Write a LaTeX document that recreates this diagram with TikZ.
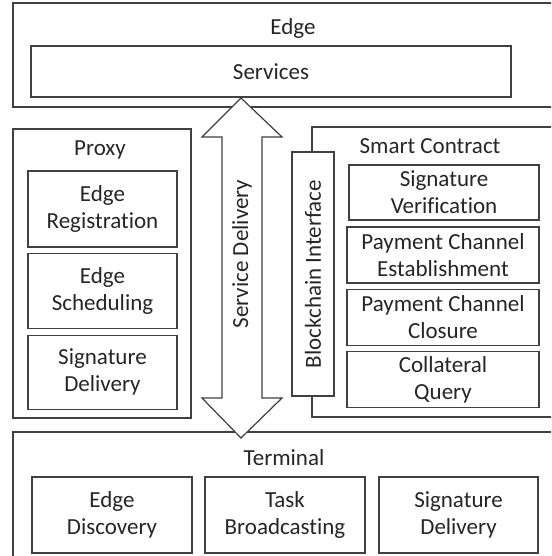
\documentclass[tikz,border=0pt]{standalone}
\usepackage{fontspec}
\setmainfont{Carlito}[Ligatures=NoCommon]
\usepackage{tikz}
\usetikzlibrary{shapes,arrows,positioning,fit,backgrounds}

\begin{document}
\begin{tikzpicture}[
    x=0.5pt, y=-0.5pt,
    font=\fontsize{11.5}{13.5}\selectfont,
    every node/.append style={text=black!85},
    outer/.style={rectangle, draw=black!75, line width=0.6pt},
    blk/.style={rectangle, draw=black!75, fill=white, line width=0.6pt, align=center, inner sep=0pt},
    title/.style={inner sep=0pt, align=center},
    dblarrow/.style={draw=black!75, line width=0.6pt, fill=white}
]
    \useasboundingbox (0,0) rectangle (551,556);
    \clip (0,0) rectangle (551,556);

    % Edge layer
    \node[outer, minimum width=280pt, minimum height=52pt] (edgebox) at (293,55) {};
    \node[title] (edgetitle) at (293,28) {Edge};
    \node[blk, minimum width=240pt, minimum height=25.5pt] (services) at (271,71.5) {Services};

    % Proxy
    \node[outer, minimum width=89pt, minimum height=144.5pt] (proxybox) at (102,273.5) {};
    \node[title] (proxytitle) at (100,150) {Proxy};
    \node[blk, minimum width=74.5pt, minimum height=38pt] (edgereg) at (102.5,209) {Edge\\Registration};
    \node[blk, minimum width=74.5pt, minimum height=37.5pt, below=2.5pt of edgereg] (edgesched) {Edge\\Scheduling};
    \node[blk, minimum width=74.5pt, minimum height=37pt, below=3pt of edgesched] (proxysig) {Signature\\Delivery};

    % Smart contract
    \node[outer, minimum width=134pt, minimum height=145pt] (scbox) at (446,272) {};
    \node[title] (sctitle) at (430,146) {Smart Contract};
    \node[blk, rotate=90, minimum width=122pt, minimum height=21pt] (bci) at (313,274) {Blockchain Interface};
    \node[blk, minimum width=95pt, minimum height=27.5pt] (sigver) at (444,192.5) {Signature\\Verification};
    \node[blk, minimum width=96pt, minimum height=28pt] (pce) at (443,255) {Payment Channel\\Establishment};
    \node[blk, minimum width=96pt, minimum height=28pt, below=2.5pt of pce] (pcc) {Payment Channel\\Closure};
    \node[blk, minimum width=96pt, minimum height=28pt, below=2.5pt of pcc] (cq) {Collateral\\Query};

    % Terminal
    \node[outer, minimum width=283.5pt, minimum height=74pt] (termbox) at (296.5,506) {};
    \node[title] (termtitle) at (284,458) {Terminal};
    \node[blk, minimum width=80pt, minimum height=38pt] (edisc) at (112,515) {Edge\\Discovery};
    \node[blk, minimum width=80pt, minimum height=38pt] (taskb) at (285,515) {Task\\Broadcasting};
    \node[blk, minimum width=79.5pt, minimum height=38pt] (termsig) at (458.5,515) {Signature\\Delivery};

    % Service delivery arrow
    \coordinate (uptip) at (241,98);
    \coordinate (downtip) at (241,438);
    \draw[dblarrow] (uptip) -- (282,137) -- (262,137) -- (262,398) -- (282,398)
        -- (downtip) -- (202,398) -- (222,398) -- (222,137) -- (202,137) -- cycle;
    \node[title, rotate=90] (sdlabel) at (242,254) {Service Delivery};
\end{tikzpicture}
\end{document}
